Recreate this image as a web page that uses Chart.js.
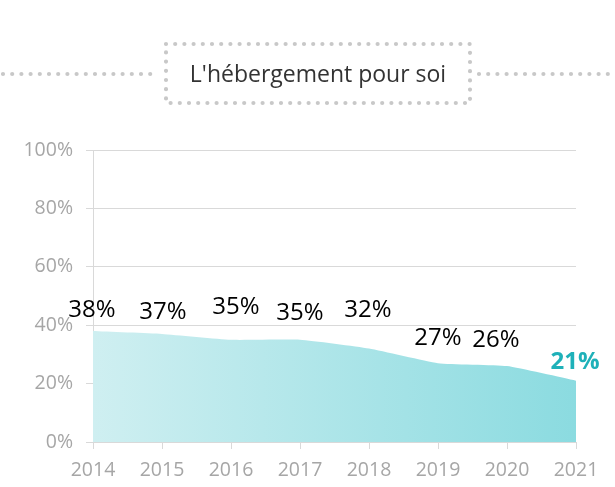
<!DOCTYPE html>
<html>
<head>
<meta charset="utf-8">
<script src="https://cdn.jsdelivr.net/npm/chart.js@4"></script>
<style>
  html, body { margin: 0; padding: 0; background: #fff; }
  #wrap { width: 615px; height: 487px; position: relative; }
</style>
</head>
<body>
<div id="wrap"><canvas id="chart" width="615" height="487"></canvas></div>
<script>
// données du graphique
const years = ['2014', '2015', '2016', '2017', '2018', '2019', '2020', '2021'];
const shares = [38, 37, 35, 35, 32, 27, 26, 21];
const yTicks = [0, 20, 40, 60, 80, 100];
const chartTitle = "L'hébergement pour soi";

// décalage des étiquettes (comme dans l'original)
const labelShift = [[-1, -21], [1, -22], [5, -33], [0, -27], [-1, -38], [0, -25], [-11, -26], [-1, -19]];

// titre encadré en pointillés
const titlePlugin = {
    id: 'dottedTitle',
    afterDraw(chart) {
        const ctx = chart.ctx;
        ctx.save();
        ctx.strokeStyle = '#c8c8c8';
        ctx.lineWidth = 4.2;
        ctx.lineCap = 'round';
        ctx.setLineDash([0, 9.2]);
        const box = { l: 166, r: 470, t: 44, b: 103 };
        ctx.beginPath();
        ctx.rect(box.l, box.t, box.r - box.l, box.b - box.t);
        ctx.stroke();
        ctx.beginPath();
        ctx.moveTo(3, 74); ctx.lineTo(158, 74);
        ctx.moveTo(479, 74); ctx.lineTo(615, 74);
        ctx.stroke();
        ctx.setLineDash([]);
        ctx.fillStyle = '#333';
        ctx.font = '23px "Open Sans", sans-serif';
        ctx.textAlign = 'center';
        ctx.textBaseline = 'middle';
        ctx.fillText(chartTitle, 318, 75);
        ctx.restore();
    }
};

// étiquettes de valeurs
const valueLabels = {
    id: 'valueLabels',
    afterDatasetsDraw(chart) {
        const ctx = chart.ctx;
        const meta = chart.getDatasetMeta(0);
        ctx.save();
        ctx.textAlign = 'center';
        ctx.textBaseline = 'middle';
        meta.data.forEach((pt, i) => {
            const last = i === shares.length - 1;
            ctx.font = (last ? 'bold ' : '') + '24px "Open Sans", sans-serif';
            ctx.fillStyle = last ? '#1fb1b9' : '#000';
            ctx.fillText(shares[i] + '%', pt.x + labelShift[i][0], pt.y + labelShift[i][1]);
        });
        ctx.restore();
    }
};

const ctx = document.getElementById('chart').getContext('2d');
new Chart(ctx, {
    type: 'line',
    data: {
        labels: years,
        datasets: [{
            data: shares,
            fill: 'origin',
            borderWidth: 0,
            pointRadius: 0,
            tension: 0.15,
            backgroundColor: function(context) {
                const area = context.chart.chartArea;
                if (!area) return '#b0e4e8';
                const g = context.chart.ctx.createLinearGradient(area.left, 0, area.right, 0);
                g.addColorStop(0, '#cfeff1');
                g.addColorStop(1, '#8bdbe0');
                return g;
            }
        }]
    },
    options: {
        responsive: false,
        animation: false,
        layout: { padding: { top: 150, right: 39, bottom: 0, left: 0 } },
        plugins: { legend: { display: false }, tooltip: { enabled: false } },
        scales: {
            x: {
                offset: false,
                grid: { drawOnChartArea: false, drawTicks: true, tickLength: 7, color: '#d9d9d9' },
                border: { color: '#d9d9d9' },
                ticks: { color: '#a6a6a6', font: { family: '"Open Sans", sans-serif', size: 19.5 }, padding: 10, maxRotation: 0 },
                afterFit(scale) { scale.height = 45; }
            },
            y: {
                min: 0,
                max: 100,
                z: 1,
                afterBuildTicks(scale) { scale.ticks = yTicks.map(v => ({ value: v })); },
                grid: { color: '#d9d9d9', tickLength: 7 },
                border: { color: '#d9d9d9' },
                ticks: {
                    color: '#a6a6a6',
                    font: { family: '"Open Sans", sans-serif', size: 19.5 },
                    padding: 13,
                    callback: v => v + '%'
                },
                afterFit(scale) { scale.width = 93; }
            }
        }
    },
    plugins: [titlePlugin, valueLabels]
});
</script>
</body>
</html>
